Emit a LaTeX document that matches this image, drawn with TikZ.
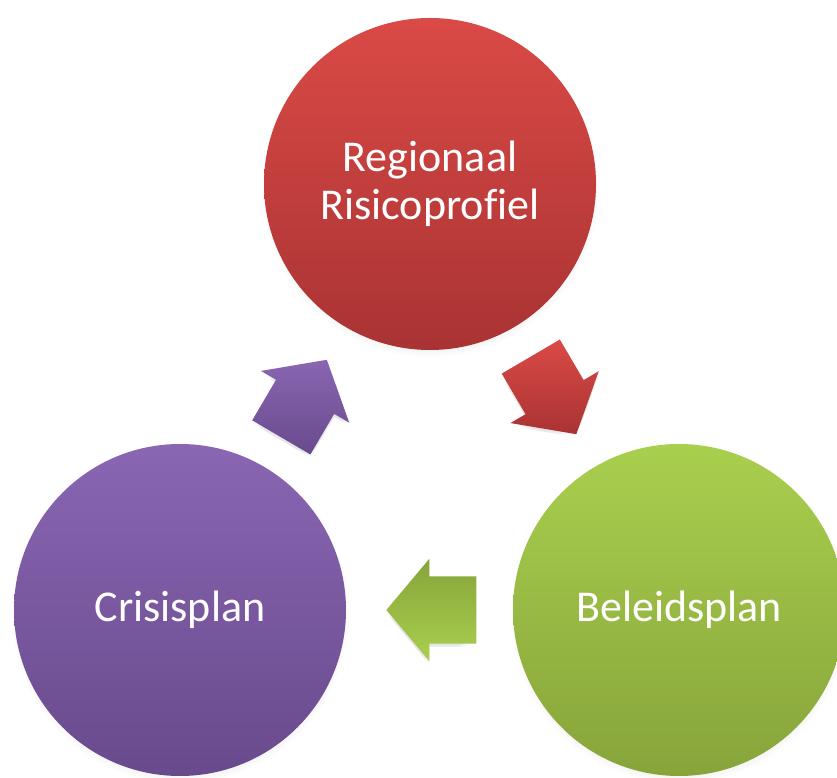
\documentclass[tikz,border=0pt]{standalone}
\usepackage{fontspec}
\setmainfont[Ligatures=NoCommon]{Carlito}
\usetikzlibrary{shapes}
\usetikzlibrary{shapes.arrows}
\usetikzlibrary{calc}
\usetikzlibrary{shadows}

\definecolor{roodboven}{HTML}{DA4A46}
\definecolor{roodonder}{HTML}{A93333}
\definecolor{groenboven}{HTML}{A9CF4E}
\definecolor{groenonder}{HTML}{87A43A}
\definecolor{paarsboven}{HTML}{8A66B3}
\definecolor{paarsonder}{HTML}{684A8C}

\tikzset{
  bol/.style={circle, minimum size=332pt, inner sep=0pt, text=white,
    font=\fontsize{44}{48}\selectfont, align=center,
    circular drop shadow={shadow scale=1.02, shadow xshift=0pt,
      shadow yshift=-4pt, opacity=.25}},
  pijl/.style={single arrow, minimum height=90pt, inner xsep=0pt,
    inner ysep=33.5pt, single arrow head extend=17.5pt,
    single arrow tip angle=100, xshift=-16pt,
    circular drop shadow={shadow scale=1, shadow xshift=0pt,
      shadow yshift=-3pt, opacity=.2}}
}

\begin{document}
\begin{tikzpicture}[x=1pt,y=1pt]
\useasboundingbox (0,0) rectangle (837,778);
\clip (0,0) rectangle (837,778);
% de drie bollen
\node[bol, top color=roodboven, bottom color=roodonder] (risico) at (430,594)
  {Regionaal\\Risicoprofiel};
\node[bol, top color=groenboven, bottom color=groenonder] (beleid) at (679,168)
  {Beleidsplan};
\node[bol, top color=paarsboven, bottom color=paarsonder] (crisis) at (180,168)
  {Crisisplan};
% de pijlen ertussen
\node[rotate=-59.6, pijl, top color=roodboven, bottom color=roodonder] (pijlrood)
  at ($(risico)!0.5!(beleid)$) {};
\node[rotate=180, pijl, top color=groenonder, bottom color=groenboven] (pijlgroen)
  at ($(beleid)!0.5!(crisis)$) {};
\node[rotate=59.6, pijl, top color=paarsboven, bottom color=paarsonder] (pijlpaars)
  at ($(crisis)!0.5!(risico)$) {};
\end{tikzpicture}
\end{document}
